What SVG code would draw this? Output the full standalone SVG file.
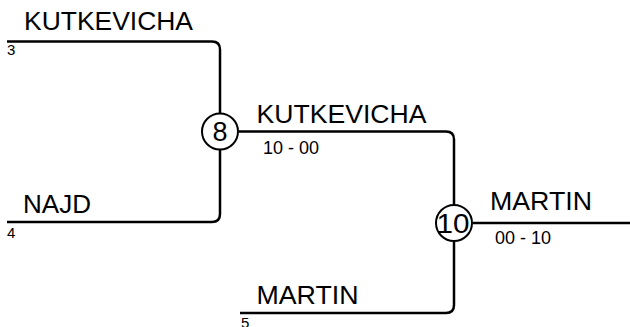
<svg xmlns="http://www.w3.org/2000/svg" width="630" height="327" viewBox="0 0 630 327">
<style>
.ln{fill:none;stroke:#000;stroke-width:2.5}
.nd{fill:#fff;stroke:#000;stroke-width:2}
.nm{font-family:"Liberation Sans",Arial,sans-serif;font-size:25.5px;fill:#000}
.sc{font-family:"Liberation Sans",Arial,sans-serif;font-size:18px;fill:#000}
.sd{font-family:"Liberation Sans",Arial,sans-serif;font-size:15px;fill:#000}
.cn{font-family:"Liberation Sans",Arial,sans-serif;font-size:27px;fill:#000;text-anchor:middle}
</style>
<rect width="630" height="327" fill="#fff"/>
<g id="connectors">
<path class="ln" d="M7,41.5 H212 Q220,41.5 220,49.5 V113"/>
<path class="ln" d="M220,150 V214 Q220,222 212,222 H7"/>
<path class="ln" d="M239,131.5 H446 Q454,131.5 454,139.5 V204"/>
<path class="ln" d="M454,242 V305 Q454,313 446,313 H240"/>
<path class="ln" d="M473,223 H630"/>
</g>
<g id="slot3"><text class="nm" x="24" y="30" textLength="169" lengthAdjust="spacingAndGlyphs">KUTKEVICHA</text><text class="sd" x="7" y="55">3</text></g>
<g id="slot4"><text class="nm" x="23" y="213" textLength="68" lengthAdjust="spacingAndGlyphs">NAJD</text><text class="sd" x="7" y="238">4</text></g>
<g id="slot5"><text class="nm" x="256.5" y="303.5" textLength="102" lengthAdjust="spacingAndGlyphs">MARTIN</text><text class="sd" x="241" y="328">5</text></g>
<g id="match8"><circle class="nd" cx="220" cy="131.5" r="18"/><text class="cn" x="220" y="141">8</text></g>
<g id="win8"><text class="nm" x="256.5" y="122.5" textLength="170" lengthAdjust="spacingAndGlyphs">KUTKEVICHA</text><text class="sc" x="263" y="153.5">10 - 00</text></g>
<g id="match10"><circle class="nd" cx="454" cy="223" r="18"/><text class="cn" x="453" y="232.5" textLength="33" lengthAdjust="spacingAndGlyphs">10</text></g>
<g id="win10"><text class="nm" x="490" y="210" textLength="102" lengthAdjust="spacingAndGlyphs">MARTIN</text><text class="sc" x="495" y="244">00 - 10</text></g>
</svg>
